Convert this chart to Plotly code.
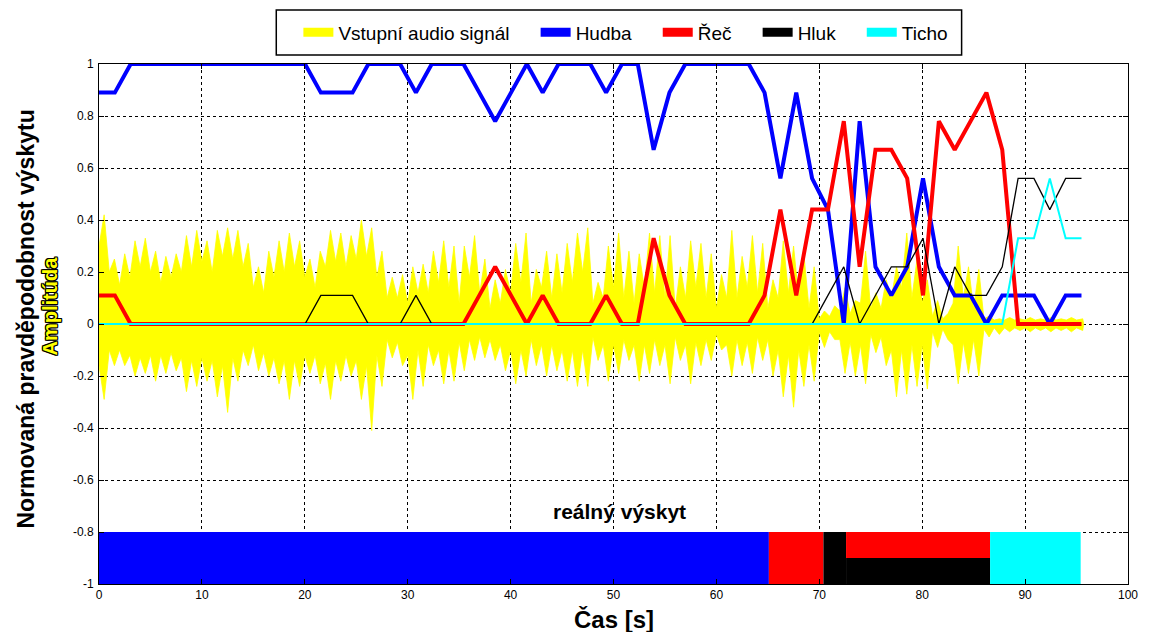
import numpy as np
import plotly.graph_objects as go

# ---------------- data ----------------
# analysis windows (s) of the classifier
WINDOW_STEP = 1.54
N_WINDOWS = 63
WINDOW_TIMES = [round(i * WINDOW_STEP, 3) for i in range(N_WINDOWS)]

HUDBA = [0.89, 0.89, 1, 1, 1, 1, 1, 1, 1, 1, 1, 1, 1, 1, 0.89, 0.89, 0.89, 1, 1, 1,
         0.89, 1, 1, 1, 0.89, 0.78, 0.89, 1, 0.89, 1, 1, 1, 0.89, 1, 1, 0.67, 0.89, 1, 1, 1,
         1, 1, 0.89, 0.56, 0.89, 0.56, 0.44, 0, 0.78, 0.22, 0.11, 0.22, 0.56, 0.22, 0.11,
         0.11, 0, 0.11, 0.11, 0.11, 0, 0.11, 0.11]
REC = [0.11, 0.11, 0, 0, 0, 0, 0, 0, 0, 0, 0, 0, 0, 0, 0, 0, 0, 0, 0, 0,
       0, 0, 0, 0, 0.11, 0.22, 0.11, 0, 0.11, 0, 0, 0, 0.11, 0, 0, 0.33, 0.11, 0, 0, 0,
       0, 0, 0.11, 0.44, 0.11, 0.44, 0.44, 0.78, 0.22, 0.67, 0.67, 0.56, 0.11, 0.78, 0.67,
       0.78, 0.89, 0.67, 0, 0, 0, 0, 0]
HLUK = [0, 0, 0, 0, 0, 0, 0, 0, 0, 0, 0, 0, 0, 0, 0.11, 0.11, 0.11, 0, 0, 0,
        0.11, 0, 0, 0, 0, 0, 0, 0, 0, 0, 0, 0, 0, 0, 0, 0, 0, 0, 0, 0,
        0, 0, 0, 0, 0, 0, 0.11, 0.22, 0, 0.11, 0.22, 0.22, 0.33, 0, 0.22,
        0.11, 0.11, 0.22, 0.56, 0.56, 0.44, 0.56, 0.56]
TICHO = [0] * 58 + [0.33, 0.33, 0.56, 0.33, 0.33]

# audio signal envelope (s, amplitude)
SIG_BODY_T = list(range(0, 96))
SIG_PEAK_T = [t + 0.5 for t in range(0, 95)] + [95.6]
SIG_TOP_PEAK = [0.42, 0.25, 0.27, 0.32, 0.33, 0.28, 0.26, 0.27, 0.34, 0.36,
                0.32, 0.36, 0.37, 0.36, 0.31, 0.22, 0.28, 0.32, 0.35, 0.32,
                0.25, 0.28, 0.36, 0.35, 0.34, 0.40, 0.37, 0.28, 0.18, 0.19,
                0.22, 0.23, 0.28, 0.32, 0.30, 0.30, 0.34, 0.25, 0.17, 0.21,
                0.31, 0.35, 0.21, 0.28, 0.27, 0.31, 0.35, 0.37, 0.16, 0.30,
                0.35, 0.28, 0.27, 0.35, 0.34, 0.34, 0.22, 0.32, 0.31, 0.27,
                0.19, 0.36, 0.26, 0.34, 0.31, 0.17, 0.32, 0.30, 0.27, 0.22,
                0.05, 0.07, 0.14, 0.09, 0.28, 0.12, 0.17, 0.22, 0.35, 0.25,
                0.17, 0.09, 0.04, 0.30, 0.22, 0.21, 0.03, 0.02, 0.025, 0.02,
                0.025, 0.02, 0.025, 0.02, 0.025, 0.02]
SIG_TOP_BODY = [0.30, 0.20, 0.15, 0.18, 0.22, 0.20, 0.16, 0.18, 0.20, 0.22,
                0.24, 0.20, 0.26, 0.25, 0.22, 0.14, 0.12, 0.18, 0.20, 0.22,
                0.18, 0.14, 0.22, 0.24, 0.22, 0.25, 0.26, 0.18, 0.10, 0.10,
                0.08, 0.12, 0.12, 0.16, 0.14, 0.08, 0.18, 0.12, 0.06, 0.08,
                0.12, 0.16, 0.08, 0.14, 0.10, 0.12, 0.16, 0.20, 0.08, 0.10,
                0.14, 0.10, 0.08, 0.14, 0.12, 0.10, 0.06, 0.10, 0.14, 0.10,
                0.06, 0.10, 0.10, 0.14, 0.12, 0.06, 0.10, 0.12, 0.10, 0.06,
                0.02, 0.03, 0.05, 0.04, 0.08, 0.06, 0.06, 0.10, 0.14, 0.10,
                0.08, 0.03, 0.02, 0.08, 0.10, 0.06, 0.02, 0.015, 0.015, 0.015,
                0.015, 0.015, 0.015, 0.015, 0.015, 0.015]
SIG_BOT_PEAK = [-0.29, -0.16, -0.16, -0.20, -0.19, -0.22, -0.19, -0.18, -0.26, -0.24,
                -0.22, -0.28, -0.34, -0.22, -0.16, -0.18, -0.20, -0.23, -0.29, -0.24,
                -0.19, -0.23, -0.29, -0.22, -0.20, -0.29, -0.41, -0.24, -0.13, -0.16,
                -0.29, -0.24, -0.16, -0.23, -0.22, -0.18, -0.14, -0.13, -0.14, -0.18,
                -0.23, -0.20, -0.16, -0.20, -0.18, -0.22, -0.24, -0.24, -0.14, -0.22,
                -0.19, -0.14, -0.22, -0.19, -0.16, -0.23, -0.14, -0.23, -0.16, -0.14,
                -0.10, -0.20, -0.16, -0.19, -0.14, -0.20, -0.28, -0.32, -0.24, -0.22,
                -0.09, -0.06, -0.19, -0.20, -0.23, -0.11, -0.16, -0.28, -0.27, -0.24,
                -0.25, -0.09, -0.06, -0.23, -0.19, -0.20, -0.05, -0.04, -0.03, -0.025,
                -0.03, -0.025, -0.03, -0.025, -0.03, -0.025]
SIG_BOT_BODY = [-0.16, -0.10, -0.10, -0.12, -0.13, -0.12, -0.12, -0.11, -0.13, -0.14,
                -0.13, -0.14, -0.16, -0.13, -0.10, -0.08, -0.11, -0.13, -0.14, -0.14,
                -0.12, -0.12, -0.15, -0.14, -0.12, -0.14, -0.16, -0.12, -0.06, -0.07,
                -0.12, -0.10, -0.08, -0.10, -0.10, -0.07, -0.06, -0.05, -0.06, -0.08,
                -0.10, -0.10, -0.06, -0.08, -0.08, -0.10, -0.10, -0.10, -0.05, -0.08,
                -0.08, -0.06, -0.08, -0.08, -0.06, -0.08, -0.05, -0.08, -0.07, -0.06,
                -0.04, -0.08, -0.06, -0.07, -0.05, -0.06, -0.10, -0.12, -0.10, -0.08,
                -0.03, -0.03, -0.06, -0.07, -0.08, -0.04, -0.05, -0.10, -0.10, -0.08,
                -0.08, -0.03, -0.02, -0.08, -0.07, -0.06, -0.02, -0.015, -0.015, -0.015,
                -0.015, -0.015, -0.015, -0.015, -0.015, -0.015]
SIG_END_T = 95.7

# real occurrence (ground truth) segments
REAL_START = [0, 65.1, 70.4, 72.6, 72.6, 86.6]
REAL_END = [65.1, 70.4, 72.6, 86.6, 86.6, 95.4]
REAL_CLASS = ["Hudba", "Řeč", "Hluk", "Řeč", "Hluk", "Ticho"]
REAL_LOW = [-1, -1, -1, -0.9, -1, -1]
REAL_HIGH = [-0.8, -0.8, -0.8, -0.8, -0.9, -0.8]

X_TICKS = [0, 10, 20, 30, 40, 50, 60, 70, 80, 90, 100]
X_TICK_LABELS = ["0", "10", "20", "30", "40", "50", "60", "70", "80", "90", "100"]
Y_TICKS = [-1, -0.8, -0.6, -0.4, -0.2, 0, 0.2, 0.4, 0.6, 0.8, 1]
Y_TICK_LABELS = ["-1", "-0.8", "-0.6", "-0.4", "-0.2", "0", "0.2", "0.4", "0.6", "0.8", "1"]

LEGEND_NAMES = ["Vstupní audio signál", "Hudba", "Řeč", "Hluk", "Ticho"]
LEGEND_KEYS = ["Signal", "Hudba", "Řeč", "Hluk", "Ticho"]

COLORS = {"Signal": "#FFFF00", "Hudba": "#0000FF", "Řeč": "#FF0000",
          "Hluk": "#000000", "Ticho": "#00FFFF"}

FONT = "Liberation Sans, Arial, sans-serif"

# ---------------- figure ----------------
ML, MR, MT, MB = 99, 12, 64, 48
W, H = 1150, 632
PW, PH = W - ML - MR, H - MT - MB


def interleave(body_t, body_v, peak_t, peak_v, end_t):
    xs, ys = [], []
    for bt, bv, pt, pv in zip(body_t, body_v, peak_t, peak_v):
        xs += [bt, pt]
        ys += [bv, pv]
    xs.append(end_t)
    ys.append(0)
    return [0] + xs, [0] + ys


fig = go.Figure()

tx, ty = interleave(SIG_BODY_T, SIG_TOP_BODY, SIG_PEAK_T, SIG_TOP_PEAK, SIG_END_T)
bx, by = interleave(SIG_BODY_T, SIG_BOT_BODY, SIG_PEAK_T, SIG_BOT_PEAK, SIG_END_T)
for xs, ys in [(tx, ty), (bx, by)]:
    fig.add_trace(go.Scatter(x=xs, y=ys, mode="lines", fill="tozeroy",
                             fillcolor=COLORS["Signal"],
                             line=dict(color=COLORS["Signal"], width=0.8),
                             showlegend=False, hoverinfo="skip"))

# ground truth bar
for s, e, c, lo, hi in zip(REAL_START, REAL_END, REAL_CLASS, REAL_LOW, REAL_HIGH):
    fig.add_trace(go.Bar(x=[(s + e) / 2], y=[hi - lo], base=[lo], width=[e - s],
                         marker=dict(color=COLORS[c], line=dict(width=0)),
                         showlegend=False, hoverinfo="skip"))

widths = {"Hudba": 4, "Řeč": 4, "Hluk": 1.3, "Ticho": 2}
for name, vals in [("Hudba", HUDBA), ("Řeč", REC), ("Hluk", HLUK), ("Ticho", TICHO)]:
    fig.add_trace(go.Scatter(x=WINDOW_TIMES, y=vals, mode="lines",
                             line=dict(color=COLORS[name], width=widths[name]),
                             showlegend=False))

# legend entries (non-breaking spaces widen the gaps between entries)
PAD = "\u00a0" * 4
for k, (name, key) in enumerate(zip(LEGEND_NAMES, LEGEND_KEYS)):
    label = name + (PAD if k < len(LEGEND_NAMES) - 1 else "")
    fig.add_trace(go.Scatter(x=[None], y=[None], mode="lines", name=label,
                             line=dict(color=COLORS[key], width=9)))

axis_common = dict(showline=True, linecolor="black", linewidth=1, mirror="ticks",
                   ticks="inside", ticklen=5, tickcolor="black",
                   showgrid=True, gridcolor="black", gridwidth=1, griddash="3px,3px",
                   zeroline=False, tickfont=dict(family=FONT, size=12, color="black"))

fig.update_layout(
    width=W, height=H,
    margin=dict(l=ML, r=MR, t=MT, b=MB),
    paper_bgcolor="white", plot_bgcolor="white",
    barmode="overlay",
    xaxis=dict(range=[0, 100], tickvals=X_TICKS, ticktext=X_TICK_LABELS, **axis_common),
    yaxis=dict(range=[-1, 1], tickvals=Y_TICKS, ticktext=Y_TICK_LABELS,
               ticklabelstandoff=2, **axis_common),
    legend=dict(orientation="h", x=(631 - ML) / PW, xanchor="center",
                y=1 + (MT - 32.5) / PH, yanchor="middle",
                bgcolor="rgba(0,0,0,0)", borderwidth=0,
                font=dict(family=FONT, size=19, color="black")),
    shapes=[dict(type="rect", xref="paper", yref="paper",
                 x0=(278 - ML) / PW, x1=(970 - ML) / PW,
                 y0=1 + (MT - 55) / PH, y1=1 + (MT - 10) / PH,
                 line=dict(color="black", width=1.5), fillcolor="white", layer="below")],
    annotations=[
        dict(text="reálný výskyt", x=50.6, y=-0.72, xref="x", yref="y", showarrow=False,
             font=dict(family=FONT, size=21, color="black", weight="bold")),
        dict(text="Čas [s]", x=0.5, y=0, xref="paper", yref="paper", yshift=-35,
             yanchor="middle", showarrow=False,
             font=dict(family=FONT, size=24, color="black", weight="bold")),
        dict(text="Normovaná pravděpodobnost výskytu", x=0, y=(H - MB - 319.5) / PH,
             xref="paper", yref="paper", xshift=25 - ML, textangle=-90, showarrow=False,
             xanchor="center", yanchor="middle",
             font=dict(family=FONT, size=23, color="black", weight="bold")),
        dict(text="Amplitúda", x=0, y=(H - MB - 306.5) / PH, xref="paper", yref="paper",
             xshift=49 - ML, textangle=-90, showarrow=False, xanchor="center", yanchor="middle",
             font=dict(family=FONT, size=20, color="#FFFF00", weight="bold",
                       shadow="1px 1px 0 #000, -1px -1px 0 #000, 1px -1px 0 #000, "
                              "-1px 1px 0 #000, 0 1px 0 #000, 0 -1px 0 #000, "
                              "1px 0 0 #000, -1px 0 0 #000")),
    ],
)

fig.write_html("out.html")
